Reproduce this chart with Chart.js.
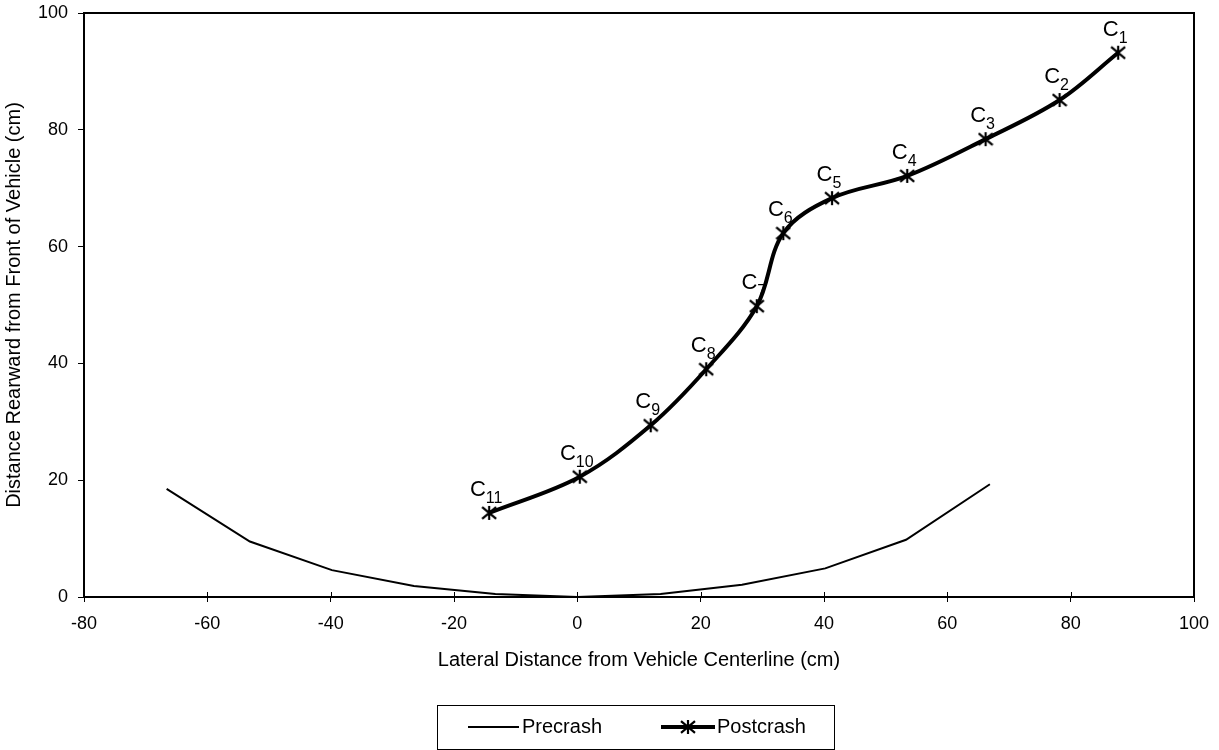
<!DOCTYPE html>
<html>
<head>
<meta charset="utf-8">
<script src="https://cdn.jsdelivr.net/npm/chart.js@4.4.1/dist/chart.umd.min.js"></script>
<style>
  html, body { margin: 0; padding: 0; background: #fff; }
  #wrap { width: 1219px; height: 750px; }
</style>
</head>
<body>
<div id="wrap"><canvas id="crashChart" width="1219" height="750"></canvas></div>
<script>
// Precrash profile (thin line, no markers)
const preX = [-66.6, -53.1, -39.8, -26.5, -13.3, 0, 13.5, 26.7, 40.2, 53.3, 66.9];
const preY = [18.5, 9.5, 4.6, 1.9, 0.5, 0, 0.5, 2.1, 4.9, 9.8, 19.3];

// Postcrash profile (thick smoothed line with star markers), points C1..C11
const postX = [87.7, 78.2, 66.2, 53.5, 41.3, 33.4, 29.1, 20.9, 11.9, 0.4, -14.3];
const postY = [93.2, 85.1, 78.4, 72.1, 68.3, 62.3, 49.8, 39.0, 29.4, 20.6, 14.4];
const postLabels = ["1", "2", "3", "4", "5", "6", "7", "8", "9", "10", "11"];

const xTicks = [-80, -60, -40, -20, 0, 20, 40, 60, 80, 100];
const yTicks = [0, 20, 40, 60, 80, 100];

const xTitle = "Lateral Distance from Vehicle Centerline (cm)";
const yTitle = "Distance Rearward from Front of Vehicle (cm)";

const FONT = "'Liberation Sans', Arial, sans-serif";

// Excel-style star marker: an X with a vertical bar through it
function starMarker(size, lw) {
  const c = document.createElement("canvas");
  c.width = size;
  c.height = size;
  const g = c.getContext("2d");
  g.strokeStyle = "#000";
  g.lineWidth = lw;
  const m = size / 2;
  const r = size / 2 - 1;
  g.beginPath();
  g.moveTo(m - r, m - r * 0.85);
  g.lineTo(m + r, m + r * 0.85);
  g.moveTo(m + r, m - r * 0.85);
  g.lineTo(m - r, m + r * 0.85);
  g.moveTo(m, m - r);
  g.lineTo(m, m + r);
  g.stroke();
  return c;
}
const marker = starMarker(16, 2.2);

const toPoints = (xs, ys) => xs.map((x, i) => ({ x: x, y: ys[i] }));

// frame around the plot, axis titles, C-labels and the boxed legend
const extras = {
  id: "extras",
  afterDatasetsDraw(chart) {
    const { ctx, chartArea, scales } = chart;
    ctx.save();
    ctx.strokeStyle = "#000";
    ctx.lineWidth = 2;
    ctx.strokeRect(chartArea.left, chartArea.top,
      chartArea.right - chartArea.left, chartArea.bottom - chartArea.top);

    // tick marks crossing into the plot (Excel "cross" ticks)
    ctx.lineWidth = 1;
    ctx.beginPath();
    xTicks.forEach((v) => {
      const px = Math.round(scales.x.getPixelForValue(v)) + 0.5;
      ctx.moveTo(px, chartArea.bottom);
      ctx.lineTo(px, chartArea.bottom - 5);
    });
    ctx.stroke();

    // axis titles
    ctx.fillStyle = "#000";
    ctx.textAlign = "center";
    ctx.textBaseline = "middle";
    ctx.font = "20px " + FONT;
    ctx.fillText(xTitle, (chartArea.left + chartArea.right) / 2, 660);
    ctx.save();
    ctx.translate(14, (chartArea.top + chartArea.bottom) / 2);
    ctx.rotate(-Math.PI / 2);
    ctx.fillText(yTitle, 0, 0);
    ctx.restore();

    // point labels C1..C11
    ctx.textBaseline = "alphabetic";
    ctx.textAlign = "left";
    postX.forEach((x, i) => {
      const px = scales.x.getPixelForValue(x);
      const py = scales.y.getPixelForValue(postY[i]);
      ctx.font = "22px " + FONT;
      const cw = ctx.measureText("C").width;
      ctx.font = "16px " + FONT;
      const sw = ctx.measureText(postLabels[i]).width;
      const startX = px - 3 - (cw + sw) / 2;
      ctx.font = "22px " + FONT;
      ctx.fillText("C", startX, py - 17);
      ctx.font = "16px " + FONT;
      ctx.fillText(postLabels[i], startX + cw, py - 10);
    });

    // legend
    const lx = 437, ly = 705, lw = 397, lh = 44;
    ctx.lineWidth = 1;
    ctx.strokeRect(lx + 0.5, ly + 0.5, lw, lh);
    const cy = ly + lh / 2;
    ctx.lineWidth = 2;
    ctx.beginPath();
    ctx.moveTo(468, cy);
    ctx.lineTo(519, cy);
    ctx.stroke();
    ctx.lineWidth = 4;
    ctx.beginPath();
    ctx.moveTo(661, cy);
    ctx.lineTo(715, cy);
    ctx.stroke();
    ctx.drawImage(marker, 688 - 8, cy - 8);
    ctx.font = "20px " + FONT;
    ctx.textAlign = "left";
    ctx.textBaseline = "middle";
    ctx.fillText("Precrash", 522, cy);
    ctx.fillText("Postcrash", 717, cy);
    ctx.restore();
  },
};

const ctx = document.getElementById("crashChart").getContext("2d");
new Chart(ctx, {
  type: "scatter",
  data: {
    datasets: [
      {
        label: "Precrash",
        data: toPoints(preX, preY),
        showLine: true,
        borderColor: "#000",
        borderWidth: 2,
        pointRadius: 0,
        tension: 0,
      },
      {
        label: "Postcrash",
        data: toPoints(postX, postY),
        showLine: true,
        borderColor: "#000",
        borderWidth: 4,
        pointStyle: marker,
        pointRadius: 8,
        tension: 0.35,
      },
    ],
  },
  options: {
    responsive: false,
    animation: false,
    layout: { padding: { left: 0, top: 13, right: 25, bottom: 98 } },
    plugins: {
      legend: { display: false },
      tooltip: { enabled: false },
    },
    scales: {
      x: {
        type: "linear",
        min: -80,
        max: 100,
        afterBuildTicks: (s) => { s.ticks = xTicks.map((v) => ({ value: v })); },
        afterFit: (s) => { s.height = 55; s.paddingLeft = 0; s.paddingRight = 0; },
        ticks: {
          color: "#000",
          font: { family: FONT, size: 18 },
          padding: 11,
          maxRotation: 0,
        },
        grid: { drawOnChartArea: false, drawTicks: true, tickLength: 5, tickColor: "#000", tickWidth: 1 },
        border: { display: true, color: "#000", width: 2 },
      },
      y: {
        type: "linear",
        min: 0,
        max: 100,
        afterBuildTicks: (s) => { s.ticks = yTicks.map((v) => ({ value: v })); },
        afterFit: (s) => { s.width = 84; s.paddingTop = 0; s.paddingBottom = 0; },
        ticks: {
          color: "#000",
          font: { family: FONT, size: 18 },
          padding: 10,
        },
        grid: { drawOnChartArea: false, drawTicks: true, tickLength: 6, tickColor: "#000", tickWidth: 1 },
        border: { display: true, color: "#000", width: 2 },
      },
    },
  },
  plugins: [extras],
});
</script>
</body>
</html>
